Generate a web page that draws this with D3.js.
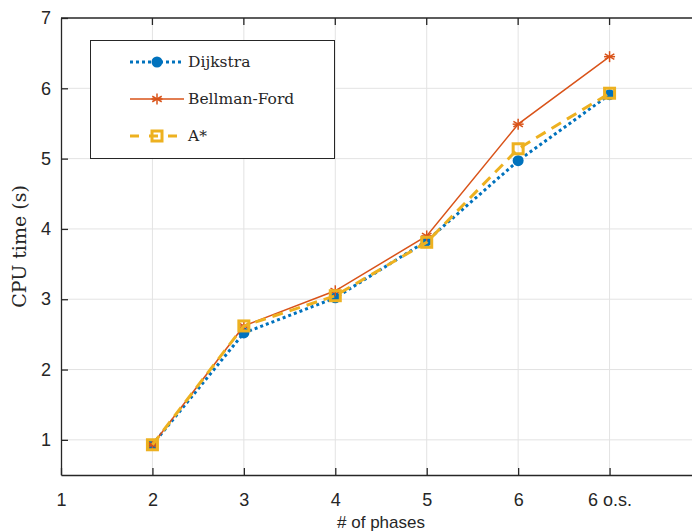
<!DOCTYPE html>
<html>
<head>
<meta charset="utf-8">
<script src="https://cdn.jsdelivr.net/npm/d3@7"></script>
<style>
  body { margin: 0; background: #fff; }
  svg { display: block; }
</style>
</head>
<body>
<div id="chart"></div>
<script>
// x positions and tick labels
var xValues = [2, 3, 4, 5, 6, 7];
var xTicks = [1, 2, 3, 4, 5, 6, 7];
var xTickLabels = ["1", "2", "3", "4", "5", "6", "6 o.s."];
var yTicks = [1, 2, 3, 4, 5, 6, 7];

// CPU time (s)
var dijkstra = [0.93, 2.52, 3.02, 3.83, 4.97, 5.91];
var bellmanFord = [0.93, 2.62, 3.12, 3.90, 5.49, 6.45];
var aStar = [0.93, 2.62, 3.05, 3.81, 5.14, 5.93];

var seriesNames = ["Dijkstra", "Bellman-Ford", "A*"];

var width = 692, height = 532;
var svg = d3.select("#chart").append("svg")
    .attr("width", width)
    .attr("height", height);

var pLeft = 61, pRight = 701, pTop = 18, pBottom = 475;

var x = d3.scaleLinear().domain([1, 8]).range([pLeft, pRight]);
var y = d3.scaleLinear().domain([0.5, 7]).range([pBottom, pTop]);

var g = svg.append("g");

// grid
g.selectAll("line.vgrid")
    .data(xTicks.slice(1))
    .enter().append("line")
    .attr("x1", function(d) { return x(d); })
    .attr("x2", function(d) { return x(d); })
    .attr("y1", pTop).attr("y2", pBottom)
    .attr("stroke", "#e3e3e3").attr("stroke-width", 1);

g.selectAll("line.hgrid")
    .data(yTicks.slice(0, -1))
    .enter().append("line")
    .attr("x1", pLeft).attr("x2", pRight)
    .attr("y1", function(d) { return y(d); })
    .attr("y2", function(d) { return y(d); })
    .attr("stroke", "#e3e3e3").attr("stroke-width", 1);

// axes
var xAxis = d3.axisBottom(x)
    .tickValues(xTicks)
    .tickFormat(function(d, i) { return xTickLabels[i]; })
    .tickSizeInner(-7).tickSizeOuter(0).tickPadding(18);
var yAxis = d3.axisLeft(y)
    .tickValues(yTicks)
    .tickFormat(d3.format("d"))
    .tickSizeInner(-7).tickSizeOuter(0).tickPadding(10);

function styleAxis(sel) {
  sel.select(".domain").attr("stroke", "#262626").attr("stroke-width", 1.3);
  sel.selectAll(".tick line").attr("stroke", "#262626").attr("stroke-width", 1.3);
  sel.selectAll(".tick text")
      .attr("fill", "#262626")
      .style("font-family", "'Liberation Sans', Arial, sans-serif")
      .style("font-size", "18px");
}

g.append("g").attr("transform", "translate(0," + pBottom + ")").call(xAxis).call(styleAxis);
g.append("g").attr("transform", "translate(" + pLeft + ",0)").call(yAxis).call(styleAxis);

// top border and its ticks
g.append("line")
    .attr("x1", pLeft).attr("x2", pRight).attr("y1", pTop).attr("y2", pTop)
    .attr("stroke", "#262626").attr("stroke-width", 1.3);
g.selectAll("line.ttick")
    .data(xTicks.slice(1))
    .enter().append("line")
    .attr("x1", function(d) { return x(d); })
    .attr("x2", function(d) { return x(d); })
    .attr("y1", pTop).attr("y2", pTop + 7)
    .attr("stroke", "#262626").attr("stroke-width", 1.3);

// axis labels
svg.append("text")
    .attr("x", x(4.5)).attr("y", 528)
    .attr("text-anchor", "middle")
    .attr("fill", "#262626")
    .style("font-family", "'Liberation Sans', Arial, sans-serif")
    .style("font-size", "17px")
    .text("# of phases");

svg.append("text")
    .attr("transform", "translate(26," + y(3.75) + ") rotate(-90)")
    .attr("text-anchor", "middle")
    .attr("fill", "#262626")
    .style("font-family", "'DejaVu Serif', 'Liberation Serif', serif")
    .style("font-size", "19px")
    .text("CPU time (s)");

var line = d3.line()
    .x(function(d, i) { return x(xValues[i]); })
    .y(function(d) { return y(d); });

var colors = ["#0072BD", "#D95319", "#EDB120"];

// Dijkstra
g.append("path").datum(dijkstra)
    .attr("d", line).attr("fill", "none")
    .attr("stroke", colors[0]).attr("stroke-width", 3)
    .attr("stroke-dasharray", "3,3");
g.selectAll("circle.dij").data(dijkstra).enter().append("circle")
    .attr("cx", function(d, i) { return x(xValues[i]); })
    .attr("cy", function(d) { return y(d); })
    .attr("r", 5.5).attr("fill", colors[0]);

// Bellman-Ford
g.append("path").datum(bellmanFord)
    .attr("d", line).attr("fill", "none")
    .attr("stroke", colors[1]).attr("stroke-width", 1.5);

function asterisk(sel, cx, cy, r, color) {
  var a = sel.append("g").attr("transform", "translate(" + cx + "," + cy + ")");
  [0, 60, 120].forEach(function(ang) {
    var rad = ang * Math.PI / 180;
    a.append("line")
      .attr("x1", -r * Math.sin(rad)).attr("y1", -r * Math.cos(rad))
      .attr("x2", r * Math.sin(rad)).attr("y2", r * Math.cos(rad))
      .attr("stroke", color).attr("stroke-width", 1.5);
  });
  a.append("line").attr("x1", -r).attr("x2", r).attr("y1", 0).attr("y2", 0)
    .attr("stroke", color).attr("stroke-width", 1.5);
}
bellmanFord.forEach(function(d, i) { asterisk(g, x(xValues[i]), y(d), 5.5, colors[1]); });

// A*
g.append("path").datum(aStar)
    .attr("d", line).attr("fill", "none")
    .attr("stroke", colors[2]).attr("stroke-width", 3)
    .attr("stroke-dasharray", "11,7");
g.selectAll("rect.astar").data(aStar).enter().append("rect")
    .attr("x", function(d, i) { return x(xValues[i]) - 5; })
    .attr("y", function(d) { return y(d) - 5; })
    .attr("width", 10).attr("height", 10)
    .attr("fill", "none")
    .attr("stroke", colors[2]).attr("stroke-width", 3);

// legend
var lg = svg.append("g");
lg.append("rect")
    .attr("x", 90.5).attr("y", 40.5).attr("width", 244).attr("height", 118)
    .attr("fill", "#fff").attr("stroke", "#262626").attr("stroke-width", 1);

var legendY = [62, 99, 136];
seriesNames.forEach(function(name, i) {
  var ly = legendY[i];
  var ln = lg.append("line")
      .attr("x1", 130).attr("x2", 184).attr("y1", ly).attr("y2", ly)
      .attr("stroke", colors[i]);
  if (i === 0) {
    ln.attr("stroke-width", 3).attr("stroke-dasharray", "3,3");
    lg.append("circle").attr("cx", 157).attr("cy", ly).attr("r", 5.5).attr("fill", colors[0]);
  } else if (i === 1) {
    ln.attr("stroke-width", 1.5);
    asterisk(lg, 157, ly, 5.5, colors[1]);
  } else {
    ln.attr("stroke-width", 3).attr("stroke-dasharray", "9,10");
    lg.append("rect").attr("x", 152).attr("y", ly - 5).attr("width", 10).attr("height", 10)
      .attr("fill", "none").attr("stroke", colors[2]).attr("stroke-width", 3);
  }
  lg.append("text")
      .attr("x", 188).attr("y", ly + 5)
      .attr("fill", "#262626")
      .style("font-family", "'DejaVu Serif', 'Liberation Serif', serif")
      .style("font-size", "15.5px")
      .text(name);
});
</script>
</body>
</html>
